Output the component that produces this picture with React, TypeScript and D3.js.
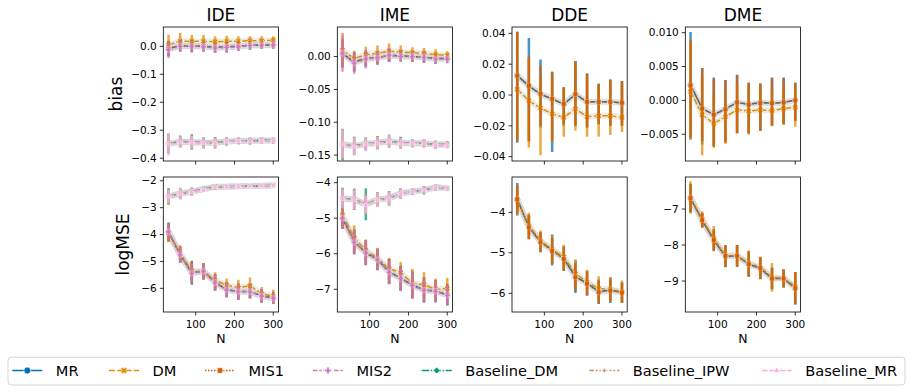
import React from 'react';
import * as d3 from 'd3';

// ---------- data ----------
const N_VALUES = [30, 60, 90, 120, 150, 180, 210, 240, 270, 300];
const SERIES = ['MR', 'DM', 'MIS1', 'MIS2', 'Baseline_DM', 'Baseline_IPW', 'Baseline_MR'];
const COLORS = ['#0173b2', '#de8f05', '#d55e00', '#cc78bc', '#029e73', '#ca9161', '#fbafe4'];
const DASHES = ['', '6,2.25', '1.5,1.5', '4.5,1.875,2.25,1.875', '7.5,1.5,1.5,1.5', '4.5,1.875,1.875,1.875,1.875,1.875', '6,1.5,6,1.5,1.5,1.5'];
const MARKERS = ['circle', 'x', 'square', 'plus', 'diamond', 'star4', 'triangle'];
const TITLES = ['IDE', 'IME', 'DDE', 'DME'];
const ROW_LABELS = ['bias', 'logMSE'];

// IDE bias (mean, symmetric error) for MR, DM, MIS1, MIS2, Baseline_DM, Baseline_IPW, Baseline_MR
const IDE_BIAS_MEAN = [
  [-0.008, 0.002, 0.0, 0.0, -0.004, -0.002, 0.0, 0.004, 0.004, 0.005],
  [0.006, 0.018, 0.018, 0.018, 0.016, 0.018, 0.018, 0.02, 0.02, 0.022],
  [-0.008, 0.002, 0.001, 0.0, -0.004, -0.002, 0.0, 0.004, 0.004, 0.005],
  [-0.012, 0.0, 0.0, -0.002, -0.006, -0.004, -0.002, 0.003, 0.004, 0.005],
  [-0.348, -0.34, -0.342, -0.344, -0.344, -0.34, -0.338, -0.338, -0.336, -0.337],
  [-0.348, -0.341, -0.343, -0.345, -0.345, -0.34, -0.338, -0.339, -0.337, -0.337],
  [-0.35, -0.342, -0.343, -0.345, -0.345, -0.34, -0.338, -0.339, -0.337, -0.337],
];
const IDE_BIAS_ERR = [
  [0.028, 0.02, 0.022, 0.018, 0.018, 0.02, 0.016, 0.016, 0.014, 0.014],
  [0.035, 0.03, 0.022, 0.022, 0.02, 0.02, 0.018, 0.016, 0.016, 0.014],
  [0.027, 0.02, 0.02, 0.018, 0.018, 0.018, 0.016, 0.015, 0.014, 0.013],
  [0.03, 0.02, 0.02, 0.018, 0.016, 0.016, 0.014, 0.014, 0.012, 0.012],
  [0.035, 0.02, 0.028, 0.02, 0.02, 0.015, 0.012, 0.012, 0.01, 0.01],
  [0.035, 0.022, 0.025, 0.02, 0.02, 0.015, 0.012, 0.012, 0.01, 0.01],
  [0.04, 0.02, 0.022, 0.02, 0.018, 0.014, 0.012, 0.011, 0.01, 0.01],
];

// IME bias
const IME_BIAS_MEAN = [
  [0.004, -0.008, -0.003, -0.002, 0.002, 0.001, 0.0, -0.001, -0.003, -0.003],
  [0.01, -0.003, 0.003, 0.005, 0.008, 0.007, 0.006, 0.005, 0.003, 0.002],
  [0.005, -0.008, -0.003, -0.002, 0.002, 0.001, 0.0, -0.001, -0.003, -0.003],
  [0.005, -0.01, -0.004, -0.002, 0.002, 0.0, 0.0, -0.001, -0.004, -0.004],
  [-0.134, -0.136, -0.133, -0.131, -0.129, -0.131, -0.132, -0.132, -0.134, -0.134],
  [-0.134, -0.136, -0.133, -0.131, -0.129, -0.132, -0.132, -0.132, -0.134, -0.134],
  [-0.133, -0.137, -0.133, -0.132, -0.129, -0.132, -0.132, -0.132, -0.134, -0.135],
];
const IME_BIAS_ERR = [
  [0.02, 0.015, 0.012, 0.01, 0.01, 0.008, 0.008, 0.008, 0.008, 0.006],
  [0.026, 0.012, 0.012, 0.012, 0.012, 0.01, 0.008, 0.008, 0.008, 0.006],
  [0.022, 0.014, 0.012, 0.01, 0.01, 0.008, 0.008, 0.008, 0.007, 0.006],
  [0.028, 0.016, 0.014, 0.01, 0.01, 0.008, 0.008, 0.008, 0.006, 0.006],
  [0.024, 0.014, 0.01, 0.01, 0.01, 0.009, 0.006, 0.006, 0.006, 0.005],
  [0.022, 0.014, 0.01, 0.01, 0.01, 0.008, 0.006, 0.006, 0.006, 0.005],
  [0.022, 0.014, 0.01, 0.01, 0.01, 0.008, 0.006, 0.006, 0.006, 0.005],
];

// DDE bias (MR, DM, MIS1) with lower / upper interval bounds
const DDE_BIAS_MEAN = [
  [0.0127, 0.0058, 0.0006, -0.0026, -0.0059, 0.0004, -0.0044, -0.0044, -0.0044, -0.0052],
  [0.0037, -0.0037, -0.0085, -0.0122, -0.0145, -0.0089, -0.0141, -0.0135, -0.0135, -0.0145],
  [0.0125, 0.006, 0.0008, -0.0025, -0.0058, 0.0005, -0.0045, -0.0045, -0.0045, -0.005],
];
const DDE_BIAS_LO = [
  [-0.031, -0.03, -0.021, -0.037, -0.02, -0.02, -0.021, -0.019, -0.02, -0.02],
  [-0.028, -0.034, -0.039, -0.03, -0.027, -0.023, -0.027, -0.027, -0.026, -0.024],
  [-0.03, -0.03, -0.02, -0.03, -0.019, -0.02, -0.021, -0.019, -0.02, -0.02],
];
const DDE_BIAS_HI = [
  [0.041, 0.037, 0.023, 0.015, 0.005, 0.022, 0.014, 0.0075, 0.01, 0.009],
  [0.04, 0.024, 0.012, 0.012, 0.004, 0.02, 0.012, 0.006, 0.009, 0.008],
  [0.041, 0.025, 0.019, 0.015, 0.005, 0.022, 0.014, 0.007, 0.01, 0.009],
];

// DME bias (MR, DM, MIS1)
const DME_BIAS_MEAN = [
  [0.0023, -0.0012, -0.0021, -0.00125, -0.0003, -0.00056, -0.0003, -0.0004, -0.0003, 0.00007],
  [0.0013, -0.0021, -0.0034, -0.0024, -0.0014, -0.00155, -0.0014, -0.0015, -0.0012, -0.001],
  [0.0022, -0.0012, -0.0021, -0.0013, -0.0003, -0.0006, -0.0004, -0.0004, -0.0003, 0.0],
];
const DME_BIAS_LO = [
  [-0.0058, -0.0065, -0.0068, -0.006, -0.0048, -0.005, -0.0045, -0.0037, -0.0035, -0.003],
  [-0.0057, -0.0081, -0.007, -0.0064, -0.0049, -0.005, -0.0033, -0.0038, -0.0036, -0.0039],
  [-0.0055, -0.006, -0.0068, -0.0063, -0.0048, -0.0048, -0.0045, -0.0037, -0.0035, -0.003],
];
const DME_BIAS_HI = [
  [0.0101, 0.0048, 0.0034, 0.003, 0.0038, 0.0026, 0.0025, 0.0034, 0.0034, 0.0026],
  [0.0085, 0.0035, 0.001, 0.0015, 0.0025, 0.002, 0.002, 0.002, 0.002, 0.002],
  [0.009, 0.0048, 0.0032, 0.003, 0.0037, 0.0026, 0.0025, 0.0033, 0.0033, 0.0026],
];

// IDE logMSE
const IDE_MSE_MEAN = [
  [-3.9, -4.75, -5.42, -5.36, -5.78, -6.05, -6.12, -6.12, -6.28, -6.36],
  [-3.95, -4.7, -5.35, -5.38, -5.7, -5.88, -5.98, -5.9, -6.2, -6.3],
  [-3.92, -4.74, -5.42, -5.37, -5.77, -6.04, -6.12, -6.12, -6.28, -6.36],
  [-3.9, -4.76, -5.44, -5.36, -5.79, -6.06, -6.13, -6.13, -6.29, -6.37],
  [-2.58, -2.47, -2.4, -2.3, -2.22, -2.22, -2.2, -2.19, -2.19, -2.17],
  [-2.59, -2.48, -2.41, -2.31, -2.23, -2.22, -2.2, -2.19, -2.19, -2.17],
  [-2.59, -2.47, -2.41, -2.32, -2.22, -2.22, -2.2, -2.19, -2.19, -2.17],
];
const IDE_MSE_ERR = [
  [0.35, 0.3, 0.45, 0.3, 0.3, 0.28, 0.3, 0.25, 0.25, 0.2],
  [0.3, 0.3, 0.3, 0.3, 0.3, 0.25, 0.3, 0.3, 0.25, 0.25],
  [0.35, 0.3, 0.4, 0.3, 0.3, 0.28, 0.3, 0.25, 0.25, 0.22],
  [0.3, 0.3, 0.35, 0.3, 0.3, 0.28, 0.3, 0.25, 0.25, 0.2],
  [0.3, 0.2, 0.15, 0.1, 0.1, 0.08, 0.08, 0.06, 0.06, 0.06],
  [0.3, 0.22, 0.15, 0.1, 0.1, 0.08, 0.08, 0.06, 0.06, 0.06],
  [0.25, 0.2, 0.15, 0.1, 0.08, 0.07, 0.07, 0.06, 0.06, 0.05],
];

// IME logMSE
const IME_MSE_MEAN = [
  [-5.0, -5.66, -5.97, -6.16, -6.51, -6.69, -6.88, -7.02, -7.05, -7.16],
  [-4.9, -5.55, -5.9, -6.13, -6.42, -6.53, -6.83, -6.87, -7.0, -6.98],
  [-5.0, -5.66, -5.97, -6.16, -6.5, -6.69, -6.88, -7.02, -7.05, -7.15],
  [-5.0, -5.68, -5.98, -6.17, -6.52, -6.7, -6.89, -7.03, -7.06, -7.17],
  [-4.44, -4.47, -4.61, -4.47, -4.44, -4.3, -4.25, -4.21, -4.13, -4.16],
  [-4.45, -4.47, -4.61, -4.47, -4.44, -4.3, -4.25, -4.21, -4.13, -4.16],
  [-4.45, -4.48, -4.62, -4.48, -4.44, -4.3, -4.25, -4.21, -4.13, -4.16],
];
const IME_MSE_ERR = [
  [0.3, 0.35, 0.35, 0.3, 0.35, 0.35, 0.38, 0.35, 0.32, 0.3],
  [0.3, 0.35, 0.3, 0.3, 0.3, 0.3, 0.4, 0.35, 0.3, 0.3],
  [0.3, 0.33, 0.35, 0.3, 0.35, 0.35, 0.38, 0.35, 0.3, 0.3],
  [0.3, 0.35, 0.35, 0.3, 0.33, 0.35, 0.38, 0.33, 0.3, 0.28],
  [0.3, 0.3, 0.45, 0.2, 0.2, 0.15, 0.1, 0.12, 0.08, 0.06],
  [0.3, 0.3, 0.3, 0.2, 0.2, 0.15, 0.1, 0.1, 0.08, 0.06],
  [0.27, 0.27, 0.25, 0.2, 0.18, 0.15, 0.1, 0.1, 0.08, 0.06],
];

// DDE logMSE (MR, DM, MIS1)
const DDE_MSE_MEAN = [
  [-3.68, -4.36, -4.73, -4.93, -5.14, -5.59, -5.75, -5.96, -5.92, -5.98],
  [-3.7, -4.33, -4.7, -4.92, -5.1, -5.51, -5.72, -5.88, -5.9, -5.96],
  [-3.68, -4.37, -4.74, -4.95, -5.15, -5.6, -5.76, -5.97, -5.93, -5.98],
];
const DDE_MSE_ERR = [
  [0.4, 0.3, 0.25, 0.38, 0.3, 0.4, 0.3, 0.3, 0.32, 0.25],
  [0.35, 0.32, 0.25, 0.35, 0.3, 0.35, 0.3, 0.3, 0.3, 0.28],
  [0.35, 0.3, 0.25, 0.32, 0.3, 0.35, 0.3, 0.28, 0.28, 0.25],
];

// DME logMSE (MR, DM, MIS1)
const DME_MSE_MEAN = [
  [-6.7, -7.31, -7.86, -8.32, -8.3, -8.53, -8.65, -8.93, -8.93, -9.2],
  [-6.68, -7.28, -7.82, -8.3, -8.3, -8.5, -8.62, -8.9, -8.92, -9.15],
  [-6.7, -7.31, -7.86, -8.3, -8.3, -8.53, -8.64, -8.93, -8.93, -9.2],
];
const DME_MSE_ERR = [
  [0.4, 0.2, 0.3, 0.3, 0.3, 0.35, 0.3, 0.3, 0.25, 0.45],
  [0.45, 0.22, 0.35, 0.3, 0.3, 0.35, 0.3, 0.4, 0.25, 0.4],
  [0.38, 0.2, 0.3, 0.3, 0.3, 0.35, 0.3, 0.3, 0.25, 0.45],
];

// y tick values
const IDE_BIAS_TICKS = [0, -0.1, -0.2, -0.3, -0.4];
const IME_BIAS_TICKS = [0, -0.05, -0.1, -0.15];
const DDE_BIAS_TICKS = [0.04, 0.02, 0, -0.02, -0.04];
const DME_BIAS_TICKS = [0.01, 0.005, 0, -0.005];
const IDE_MSE_TICKS = [-2, -3, -4, -5, -6];
const IME_MSE_TICKS = [-4, -5, -6, -7];
const DDE_MSE_TICKS = [-4, -5, -6];
const DME_MSE_TICKS = [-7, -8, -9];
const X_TICKS = [100, 200, 300];

// ---------- layout ----------
const W = 912, H = 392;
const COL_LEFT = [163.3, 337.3, 512, 685.3];
const AX_W = 115.2;
const ROW_TOP = [27, 177];
const ROW_BOT = [161, 312];
const FONT = 'DejaVu Sans, sans-serif';

type SeriesData = { idx: number; mean: number[]; lo: number[]; hi: number[] };
type Panel = { col: number; row: number; domain: [number, number]; ticks: number[]; fmt: string; series: SeriesData[] };

function sym(mean: number[][], err: number[][], ids: number[]): SeriesData[] {
  return ids.map((id, k) => ({
    idx: id,
    mean: mean[k],
    lo: mean[k].map((m, i) => m - err[k][i]),
    hi: mean[k].map((m, i) => m + err[k][i]),
  }));
}
function asym(mean: number[][], lo: number[][], hi: number[][], ids: number[]): SeriesData[] {
  return ids.map((id, k) => ({ idx: id, mean: mean[k], lo: lo[k], hi: hi[k] }));
}
const ALL = [0, 1, 2, 3, 4, 5, 6];
const THREE = [0, 1, 2];

const PANELS: Panel[] = [
  { col: 0, row: 0, domain: [-0.41, 0.069], ticks: IDE_BIAS_TICKS, fmt: '.1f', series: sym(IDE_BIAS_MEAN, IDE_BIAS_ERR, ALL) },
  { col: 1, row: 0, domain: [-0.159, 0.045], ticks: IME_BIAS_TICKS, fmt: '.2f', series: sym(IME_BIAS_MEAN, IME_BIAS_ERR, ALL) },
  { col: 2, row: 0, domain: [-0.0428, 0.0441], ticks: DDE_BIAS_TICKS, fmt: '.2f', series: asym(DDE_BIAS_MEAN, DDE_BIAS_LO, DDE_BIAS_HI, THREE) },
  { col: 3, row: 0, domain: [-0.00894, 0.01084], ticks: DME_BIAS_TICKS, fmt: '.3f', series: asym(DME_BIAS_MEAN, DME_BIAS_LO, DME_BIAS_HI, THREE) },
  { col: 0, row: 1, domain: [-6.88, -1.86], ticks: IDE_MSE_TICKS, fmt: 'd', series: sym(IDE_MSE_MEAN, IDE_MSE_ERR, ALL) },
  { col: 1, row: 1, domain: [-7.64, -3.84], ticks: IME_MSE_TICKS, fmt: 'd', series: sym(IME_MSE_MEAN, IME_MSE_ERR, ALL) },
  { col: 2, row: 1, domain: [-6.46, -3.13], ticks: DDE_MSE_TICKS, fmt: 'd', series: sym(DDE_MSE_MEAN, DDE_MSE_ERR, THREE) },
  { col: 3, row: 1, domain: [-9.86, -6.11], ticks: DME_MSE_TICKS, fmt: 'd', series: sym(DME_MSE_MEAN, DME_MSE_ERR, THREE) },
];

function markerPath(type: string, s: number): string {
  const r = s / 2;
  switch (type) {
    case 'circle':
      return d3.symbol(d3.symbolCircle, Math.PI * r * r)() as string;
    case 'x': {
      const w = s * 0.2;
      const pts: [number, number][] = [];
      const base: [number, number][] = [
        [-w, -r], [w, -r], [w, -w], [r, -w], [r, w], [w, w], [w, r], [-w, r], [-w, w], [-r, w], [-r, -w], [-w, -w],
      ];
      const c = Math.SQRT1_2;
      base.forEach(([x, y]) => pts.push([(x - y) * c, (x + y) * c]));
      return 'M' + pts.map(p => p.join(',')).join('L') + 'Z';
    }
    case 'square': {
      const h = r * 0.8;
      return `M${-h},${-h}L${h},${-h}L${h},${h}L${-h},${h}Z`;
    }
    case 'plus': {
      const w = s * 0.18;
      return `M${-w},${-r}L${w},${-r}L${w},${-w}L${r},${-w}L${r},${w}L${w},${w}L${w},${r}L${-w},${r}L${-w},${w}L${-r},${w}L${-r},${-w}L${-w},${-w}Z`;
    }
    case 'diamond':
      return `M0,${-r}L${r},0L0,${r}L${-r},0Z`;
    case 'star4': {
      const ri = r * 0.38;
      const pts: string[] = [];
      for (let i = 0; i < 8; i++) {
        const a = (Math.PI / 4) * i - Math.PI / 2;
        const rr = i % 2 === 0 ? r : ri;
        pts.push(`${rr * Math.cos(a)},${rr * Math.sin(a)}`);
      }
      return 'M' + pts.join('L') + 'Z';
    }
    case 'triangle':
      return `M0,${-r}L${r * 0.95},${r * 0.6}L${-r * 0.95},${r * 0.6}Z`;
  }
  return '';
}

const minus = (s: string) => s.replace(/-/g, '\u2212');

function PanelView({ p }: { p: Panel }) {
  const x0 = COL_LEFT[p.col];
  const x1 = x0 + AX_W;
  const y0 = ROW_TOP[p.row];
  const y1 = ROW_BOT[p.row];
  const xs = d3.scaleLinear().domain([16.5, 313.5]).range([x0, x1]);
  const ys = d3.scaleLinear().domain(p.domain).range([y1, y0]);
  const fmt = d3.format(p.fmt);
  const line = d3.line<number>().x((_, i) => xs(N_VALUES[i])).y(d => ys(d));
  const clipId = `clip-${p.col}-${p.row}`;
  return (
    <g>
      <defs>
        <clipPath id={clipId}>
          <rect x={x0} y={y0} width={x1 - x0} height={y1 - y0} />
        </clipPath>
      </defs>
      <g clipPath={`url(#${clipId})`}>
        {p.series.map(s => (
          <path key={'h' + s.idx} d={line(s.mean) as string} fill="none" stroke="#c8c8c8" strokeOpacity={0.35} strokeWidth={6} strokeLinejoin="round" strokeLinecap="round" />
        ))}
        {p.series.map(s => {
          const col = COLORS[s.idx];
          return (
            <g key={s.idx}>
              <path d={line(s.mean) as string} fill="none" stroke={col} strokeWidth={1.5} strokeDasharray={DASHES[s.idx] || undefined} />
              {s.mean.map((m, i) => (
                <path key={i} d={markerPath(MARKERS[s.idx], 6)} transform={`translate(${xs(N_VALUES[i])},${ys(m)})`} fill={col} stroke="#fff" strokeWidth={0.6} />
              ))}
              {s.mean.map((m, i) => (
                <line key={'e' + i} x1={xs(N_VALUES[i])} x2={xs(N_VALUES[i])} y1={ys(s.lo[i])} y2={ys(s.hi[i])} stroke={col} strokeWidth={2.5} strokeOpacity={0.75} />
              ))}
            </g>
          );
        })}
      </g>
      <rect x={x0} y={y0} width={x1 - x0} height={y1 - y0} fill="none" stroke="#000" strokeWidth={0.8} />
      {X_TICKS.map(t => (
        <g key={t}>
          <line x1={xs(t)} x2={xs(t)} y1={y1} y2={y1 + 3.5} stroke="#000" strokeWidth={0.8} />
          {p.row === 1 && (
            <text x={xs(t)} y={y1 + 15.5} textAnchor="middle" fontSize={10.5} fontFamily={FONT} fill="#000">{t}</text>
          )}
        </g>
      ))}
      {p.ticks.map(t => (
        <g key={t}>
          <line x1={x0 - 3.5} x2={x0} y1={ys(t)} y2={ys(t)} stroke="#000" strokeWidth={0.8} />
          <text x={x0 - 6.5} y={ys(t)} dy="0.35em" textAnchor="end" fontSize={10.5} fontFamily={FONT} fill="#000">{minus(fmt(t))}</text>
        </g>
      ))}
      {p.row === 0 && (
        <text x={(x0 + x1) / 2} y={y0 - 6.5} textAnchor="middle" fontSize={17} fontFamily={FONT} fill="#000">{TITLES[p.col]}</text>
      )}
      {p.row === 1 && (
        <text x={(x0 + x1) / 2} y={y1 + 31} textAnchor="middle" fontSize={12.5} fontFamily={FONT} fill="#000">N</text>
      )}
      {p.col === 0 && (
        <text transform={`translate(${p.row === 0 ? 122 : 129},${(y0 + y1) / 2}) rotate(-90)`} textAnchor="middle" fontSize={17} fontFamily={FONT} fill="#000">{ROW_LABELS[p.row]}</text>
      )}
    </g>
  );
}

const LEGEND_X = [12.3, 109, 205, 313, 421.7, 589.3, 761.7];

function Legend() {
  const cy = 370.5;
  return (
    <g>
      <rect x={8} y={357.3} width={897} height={27.7} rx={3} fill="#fff" fillOpacity={0.8} stroke="#cccccc" strokeWidth={0.8} />
      {SERIES.map((name, i) => {
        const hx = LEGEND_X[i];
        return (
          <g key={name}>
            <line x1={hx} x2={hx + 30} y1={cy} y2={cy} stroke={COLORS[i]} strokeWidth={1.5} strokeDasharray={DASHES[i] || undefined} />
            <path d={markerPath(MARKERS[i], 7)} transform={`translate(${hx + 15},${cy})`} fill={COLORS[i]} stroke="#fff" strokeWidth={0.75} />
            <text x={hx + 43.5} y={cy} dy="0.35em" fontSize={14.6} fontFamily={FONT} fill="#000">{name}</text>
          </g>
        );
      })}
    </g>
  );
}

export default function App() {
  return (
    <svg width={W} height={H} style={{ position: 'absolute', left: 0, top: 0, background: '#fff' }} xmlns="http://www.w3.org/2000/svg">
      <rect width={W} height={H} fill="#fff" />
      {PANELS.map((p, i) => <PanelView key={i} p={p} />)}
      <Legend />
    </svg>
  );
}
